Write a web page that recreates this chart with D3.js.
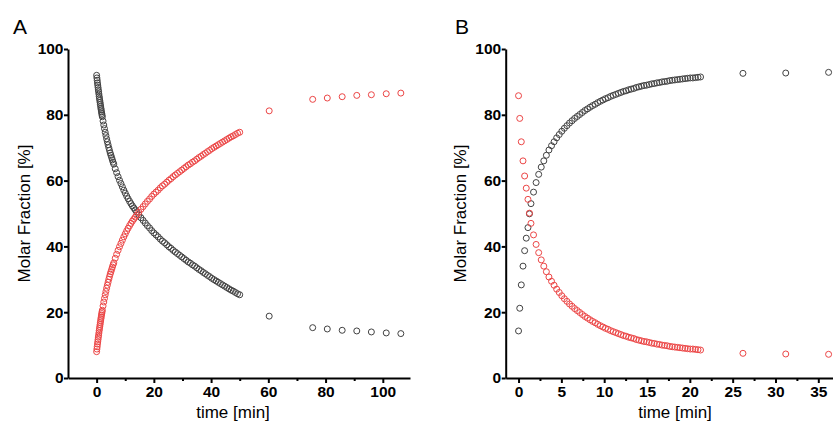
<!DOCTYPE html>
<html>
<head>
<meta charset="utf-8">
<script src="https://cdn.jsdelivr.net/npm/d3@7"></script>
<style>
  body { margin: 0; background: #fff; }
  svg { display: block; font-family: "Liberation Sans", Arial, sans-serif; }
</style>
</head>
<body>
<div id="chart"></div>
<script>
// shared y ticks
const yTicks = [0, 20, 40, 60, 80, 100];

// ---- panel A ----
const aXTicks = [0, 20, 40, 60, 80, 100];
const aXMinor = [10, 30, 50, 70, 90];
const aTime = [
  0, 0.1, 0.2, 0.3, 0.4, 0.5, 0.6, 0.7, 0.8, 0.9, 1.0, 1.1, 1.2, 1.3, 1.4, 1.5, 1.6, 1.7, 1.8, 1.9, 2.0,
  2.25, 2.5, 2.75, 3.0, 3.25, 3.5, 3.75, 4.0, 4.25, 4.5, 4.75, 5.0, 5.25, 5.5, 5.75, 6.0,
  6.5, 7.0, 7.5, 8.0, 8.5, 9.0, 9.5, 10.0, 10.5, 11.0, 11.5, 12.0, 12.5, 13.0, 13.5, 14.0,
  14.75, 15.5, 16.25, 17, 17.75, 18.5, 19.25, 20, 20.75, 21.5, 22.25, 23, 23.75, 24.5, 25.25, 26,
  26.75, 27.5, 28.25, 29, 29.75, 30.5, 31.25, 32, 32.75, 33.5, 34.25, 35, 35.75, 36.5, 37.25, 38,
  38.75, 39.5, 40.25, 41, 41.75, 42.5, 43.25, 44, 44.75, 45.5, 46.25, 47, 47.75, 48.5, 49.25, 50
];
const aBlack = [
  92.0, 91.2, 90.5, 89.7, 89.0, 88.3, 87.6, 87.0, 86.3, 85.6, 85.0, 84.4, 83.8, 83.2, 82.6, 82.0, 81.5, 80.9, 80.4, 79.9, 79.4,
  78.1, 76.9, 75.8, 74.7, 73.7, 72.7, 71.8, 70.9, 70.0, 69.2, 68.4, 67.7, 67.0, 66.3, 65.6, 65.0,
  63.6, 62.4, 61.2, 60.1, 59.1, 58.1, 57.1, 56.2, 55.3, 54.5, 53.7, 53.0, 52.3, 51.7, 51.1, 50.5,
  49.6, 48.7, 47.9, 47.1, 46.3, 45.6, 44.8, 44.1, 43.5, 42.9, 42.2, 41.6, 41.1, 40.5, 39.9, 39.4,
  38.8, 38.3, 37.8, 37.3, 36.8, 36.3, 35.8, 35.3, 34.9, 34.4, 34.0, 33.5, 33.0, 32.6, 32.1, 31.7,
  31.2, 30.8, 30.3, 29.9, 29.5, 29.1, 28.7, 28.3, 27.9, 27.5, 27.1, 26.7, 26.4, 26.0, 25.6, 25.3
];
const aRed = [
  8.0, 8.8, 9.5, 10.3, 11.0, 11.7, 12.4, 13.0, 13.7, 14.4, 15.0, 15.6, 16.2, 16.8, 17.4, 18.0, 18.5, 19.1, 19.6, 20.1, 20.6,
  21.9, 23.1, 24.2, 25.3, 26.3, 27.3, 28.2, 29.1, 30.0, 30.8, 31.6, 32.3, 33.0, 33.7, 34.4, 35.0,
  36.4, 37.6, 38.8, 39.9, 40.9, 41.9, 42.9, 43.8, 44.7, 45.5, 46.3, 47.0, 47.7, 48.3, 48.9, 49.5,
  50.4, 51.3, 52.1, 52.9, 53.7, 54.4, 55.2, 55.9, 56.5, 57.1, 57.8, 58.4, 58.9, 59.5, 60.1, 60.6,
  61.2, 61.7, 62.2, 62.7, 63.2, 63.7, 64.2, 64.7, 65.1, 65.6, 66.0, 66.5, 67.0, 67.4, 67.9, 68.3,
  68.8, 69.2, 69.7, 70.1, 70.5, 70.9, 71.3, 71.7, 72.1, 72.5, 72.9, 73.3, 73.6, 74.0, 74.4, 74.7
];
const aLateTime = [60.3, 75.5, 80.6, 85.8, 90.9, 96.0, 101.2, 106.3];
const aLateBlack = [18.8, 15.3, 14.9, 14.5, 14.3, 14.0, 13.7, 13.5];
const aLateRed = [81.2, 84.7, 85.1, 85.5, 85.9, 86.1, 86.4, 86.6];

// ---- panel B ----
const bXTicks = [0, 5, 10, 15, 20, 25, 30, 35];
const bXMinor = [2.5, 7.5, 12.5, 17.5, 22.5, 27.5, 32.5, 37.5];
const bTime = [
  0, 0.14, 0.32, 0.52, 0.71, 0.9, 1.1, 1.27,
  1.45, 1.75, 2.05, 2.35, 2.65, 2.95, 3.25, 3.55, 3.85, 4.15, 4.45, 4.75, 5.05, 5.35, 5.65, 5.95,
  6.25, 6.55, 6.85, 7.15, 7.45, 7.75, 8.05, 8.35, 8.65, 8.95, 9.25, 9.55, 9.85, 10.15, 10.45, 10.75,
  11.05, 11.35, 11.65, 11.95, 12.25, 12.55, 12.85, 13.15, 13.45, 13.75, 14.05, 14.35, 14.65, 14.95,
  15.25, 15.55, 15.85, 16.15, 16.45, 16.75, 17.05, 17.35, 17.65, 17.95, 18.25, 18.55, 18.85, 19.15,
  19.45, 19.75, 20.05, 20.35, 20.65, 20.95, 21.25
];
const bBlack = [
  14.3, 21.2, 28.3, 34.0, 38.7, 42.5, 45.7, 49.9,
  53.0, 56.5, 59.4, 61.9, 64.1, 66.0, 67.7, 69.3, 70.6, 71.8, 73.0, 74.0, 75.0, 75.9,
  76.7, 77.5, 78.2, 78.9, 79.5, 80.1, 80.7, 81.3, 81.8, 82.3, 82.8, 83.2, 83.7, 84.1, 84.5, 84.9,
  85.2, 85.6, 85.9, 86.2, 86.5, 86.8, 87.1, 87.3, 87.6, 87.8, 88.0, 88.3, 88.5, 88.7,
  88.9, 89.0, 89.2, 89.4, 89.5, 89.7, 89.8, 90.0, 90.1, 90.2, 90.4, 90.5, 90.6, 90.7,
  90.8, 90.9, 91.0, 91.1, 91.2, 91.2, 91.3, 91.4, 91.5
];
const bRed = [
  85.8, 78.9, 71.8, 66.0, 61.4, 57.7, 54.3, 50.1,
  47.0, 43.5, 40.6, 38.1, 35.9, 34.0, 32.3, 30.7, 29.4, 28.2, 27.0, 26.0, 25.0, 24.1,
  23.3, 22.5, 21.8, 21.1, 20.5, 19.9, 19.3, 18.7, 18.2, 17.7, 17.2, 16.8, 16.3, 15.9, 15.5, 15.1,
  14.8, 14.4, 14.1, 13.8, 13.5, 13.2, 12.9, 12.7, 12.4, 12.2, 12.0, 11.7, 11.5, 11.3,
  11.1, 11.0, 10.8, 10.6, 10.5, 10.3, 10.2, 10.0, 9.9, 9.8, 9.6, 9.5, 9.4, 9.3,
  9.2, 9.1, 9.0, 8.9, 8.8, 8.8, 8.7, 8.6, 8.5
];
const bLateTime = [26.2, 31.2, 36.2];
const bLateBlack = [92.6, 92.7, 92.9];
const bLateRed = [7.5, 7.3, 7.2];

const blackColor = "#424242";
const redColor = "#ec4646";

const svg = d3.select("#chart").append("svg")
  .attr("width", 833)
  .attr("height", 422)
  .attr("viewBox", "0 0 833 422");

const pair = (ts, vs) => ts.map((t, i) => ({ t, v: vs[i] }));

const panels = [
  {
    letter: "A", letterX: 13,
    xDomain: [-10, 109.5], xRange: [68, 410],
    xTicks: aXTicks, xMinor: aXMinor,
    yTitleX: 24, xTitleX: 233,
    black: pair(aTime, aBlack).concat(pair(aLateTime, aLateBlack)),
    red: pair(aTime, aRed).concat(pair(aLateTime, aLateRed))
  },
  {
    letter: "B", letterX: 455,
    xDomain: [-1.5, 38], xRange: [505.7, 844],
    xTicks: bXTicks, xMinor: bXMinor,
    yTitleX: 460, xTitleX: 675,
    black: pair(bTime, bBlack).concat(pair(bLateTime, bLateBlack)),
    red: pair(bTime, bRed).concat(pair(bLateTime, bLateRed))
  }
];

panels.forEach(p => {
  const g = svg.append("g");

  const x = d3.scaleLinear().domain(p.xDomain).range(p.xRange);
  const y = d3.scaleLinear().domain([0, 100]).range([378, 49]);

  // Y axis
  g.append("g")
    .attr("transform", `translate(${p.xRange[0]},0)`)
    .call(d3.axisLeft(y).tickValues(yTicks).tickSize(4).tickPadding(0.5).tickSizeOuter(0));

  // X axis
  g.append("g")
    .attr("transform", `translate(0,378)`)
    .call(d3.axisBottom(x).tickValues(p.xTicks).tickSize(5).tickPadding(3).tickSizeOuter(0));

  // minor x ticks
  g.append("g")
    .attr("transform", `translate(0,378)`)
    .call(d3.axisBottom(x).tickValues(p.xMinor).tickSize(3).tickFormat(""))
    .call(a => a.select(".domain").remove());

  g.selectAll(".domain").attr("stroke", "#000").attr("stroke-width", 2);
  g.selectAll(".tick line").attr("stroke", "#000").attr("stroke-width", 2);
  g.selectAll(".tick text")
    .attr("fill", "#000")
    .style("font-family", "'Liberation Sans', Arial, sans-serif")
    .style("font-size", "15.5px")
    .style("font-weight", "bold");

  // titles
  g.append("text")
    .attr("transform", `translate(${p.yTitleX},213.5) rotate(-90)`)
    .attr("text-anchor", "middle")
    .attr("dominant-baseline", "central")
    .style("font-size", "17px")
    .text("Molar Fraction [%]");

  g.append("text")
    .attr("x", p.xTitleX)
    .attr("y", 418)
    .attr("text-anchor", "middle")
    .style("font-size", "17px")
    .text("time [min]");

  g.append("text")
    .attr("x", p.letterX)
    .attr("y", 33.5)
    .style("font-size", "21px")
    .text(p.letter);

  // markers: black first, red on top
  [[p.black, blackColor], [p.red, redColor]].forEach(([pts, col]) => {
    g.append("g").selectAll("circle")
      .data(pts)
      .enter().append("circle")
      .attr("cx", d => x(d.t))
      .attr("cy", d => y(d.v))
      .attr("r", 3)
      .attr("fill", "none")
      .attr("stroke", col)
      .attr("stroke-width", 1);
  });
});
</script>
</body>
</html>
